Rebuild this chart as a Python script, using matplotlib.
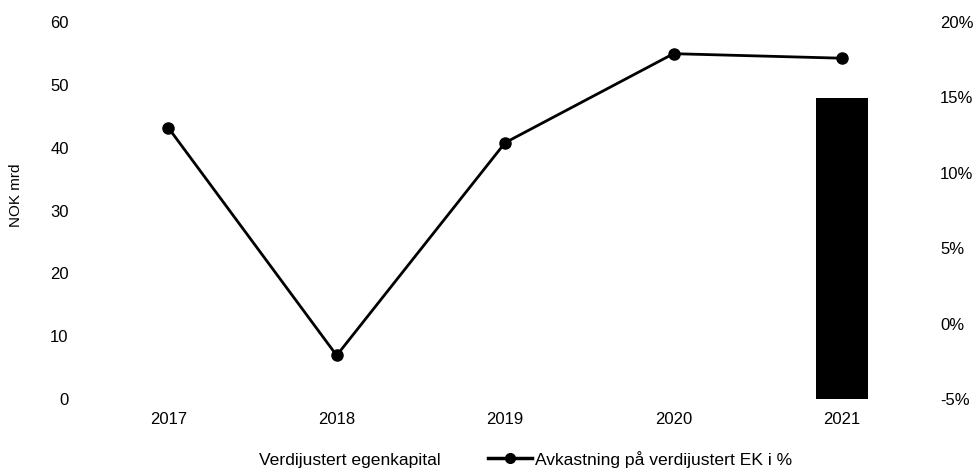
import matplotlib
matplotlib.use("Agg")
import matplotlib.pyplot as plt
from matplotlib.patches import Patch
from matplotlib.lines import Line2D

years = ["2017", "2018", "2019", "2020", "2021"]
equity = [0, 0, 0, 0, 47.9]          # NOK mrd (only 2021 shown)
returns = [13.0, -2.1, 12.0, 17.9, 17.6]  # %

left_ticks = [0, 10, 20, 30, 40, 50, 60]
right_ticks = [-5, 0, 5, 10, 15, 20]

plt.rcParams['font.family'] = ['Liberation Sans', 'DejaVu Sans']
plt.rcParams['font.size'] = 12

fig = plt.figure(figsize=(9.77, 4.68), dpi=100)
ax = fig.add_axes([0.086, 0.147, 0.862, 0.806])
x = list(range(len(years)))
ax.bar(x, equity, width=0.31, color='black')
ax.set_ylim(0, 60)
ax.set_yticks(left_ticks)
ax.set_xlim(-0.5, len(years) - 0.5)
ax.set_xticks(x)
ax.set_xticklabels(years)
ax.set_ylabel("NOK mrd", fontsize=11)
ax.yaxis.set_label_coords(-0.073, 0.54)
for s in ax.spines.values():
    s.set_visible(False)
ax.tick_params(length=0, pad=9)
ax.tick_params(axis='y', pad=11)

ax2 = ax.twinx()
ax2.plot(x, returns, color='black', lw=2, marker='o', markersize=8)
ax2.set_ylim(-5, 20)
ax2.set_yticks(right_ticks)
ax2.set_yticklabels([f"{t}%" for t in right_ticks])
for s in ax2.spines.values():
    s.set_visible(False)
ax2.tick_params(length=0, pad=10)

handles = [Patch(facecolor='white', edgecolor='none'),
           Line2D([0], [0], color='black', lw=2.5, marker='o', markersize=7)]
labels = ["Verdijustert egenkapital", "Avkastning på verdijustert EK i %"]
fig.legend(handles, labels, loc='center', bbox_to_anchor=(0.514, 0.019), ncol=2,
           frameon=False, fontsize=12.6, handlelength=2.5, columnspacing=2.7,
           handletextpad=0.2)

fig.savefig("out.png", dpi=100)
